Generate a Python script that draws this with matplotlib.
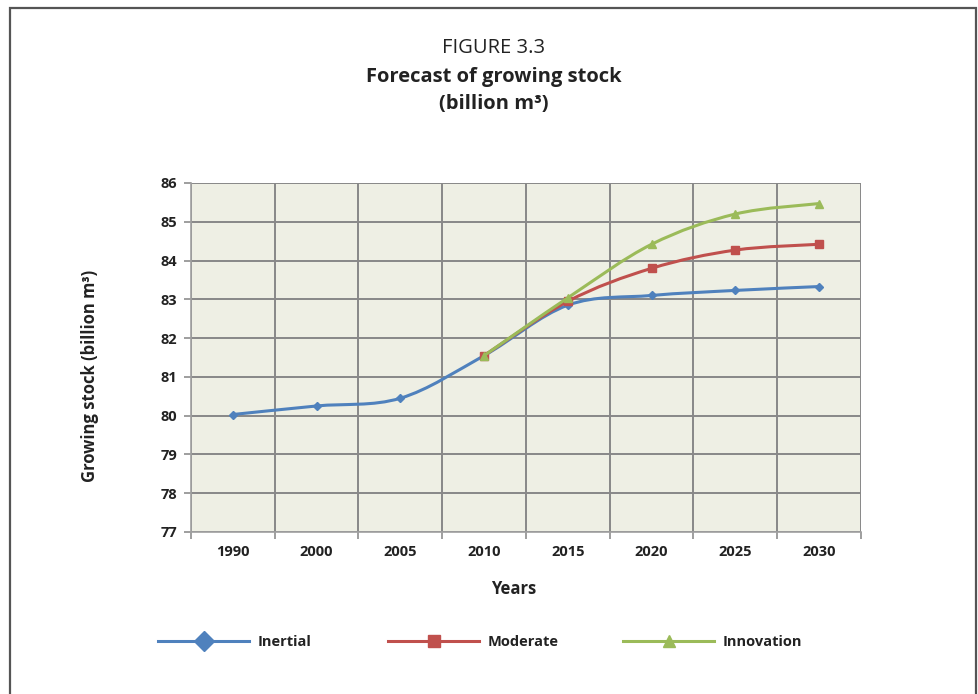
import matplotlib
matplotlib.use("Agg")
import matplotlib.pyplot as plt
import numpy as np
from matplotlib.path import Path
from matplotlib.patches import PathPatch, Rectangle
from matplotlib.lines import Line2D

plt.rcParams['font.family'] = ['Open Sans', 'DejaVu Sans']

years = ["1990", "2000", "2005", "2010", "2015", "2020", "2025", "2030"]
inertial = [80.03, 80.25, 80.45, 81.55, 82.85, 83.10, 83.23, 83.33]
moderate = [None, None, None, 81.55, 82.95, 83.80, 84.27, 84.42]
innovation = [None, None, None, 81.55, 83.04, 84.42, 85.20, 85.47]

series_names = ["Inertial", "Moderate", "Innovation"]
colors = ["#4F81BD", "#C0504D", "#9BBB59"]
markers = ["D", "s", "^"]

fig = plt.figure(figsize=(9.79, 6.94), dpi=100)
ax = fig.add_axes([191/979, 1-532/694, (861-191)/979, (532-183)/694])
ax.set_facecolor("#EEEFE4")

n = len(years)
ax.set_xlim(-0.5, n - 0.5)
ax.set_ylim(77, 86)


def smooth_path(xs, ys):
    pts = np.column_stack([xs, ys])
    verts = [pts[0]]
    codes = [Path.MOVETO]
    m = len(pts)
    for i in range(m - 1):
        p0 = pts[i - 1] if i > 0 else pts[i]
        p1 = pts[i]
        p2 = pts[i + 1]
        p3 = pts[i + 2] if i + 2 < m else pts[i + 1]
        c1 = p1 + (p2 - p0) / 6.0
        c2 = p2 - (p3 - p1) / 6.0
        verts += [c1, c2, p2]
        codes += [Path.CURVE4] * 3
    return Path(verts, codes)

msize = [4.5, 5.5, 5.5]
for vals, col, mk, ms, z in zip([inertial, moderate, innovation], colors, markers, msize, [3, 4, 5]):
    xs = [i for i, v in enumerate(vals) if v is not None]
    ys = [v for v in vals if v is not None]
    patch = PathPatch(smooth_path(xs, ys), facecolor="none", edgecolor=col, lw=2.2, zorder=z)
    ax.add_patch(patch)
    ax.plot(xs, ys, linestyle="none", marker=mk, color=col, markersize=ms, zorder=z + 0.1)

# grid
ax.set_yticks(np.arange(77, 87, 1))
ax.set_xticks(range(n))
ax.set_xticklabels(years)
ax.set_xticks(np.arange(-0.5, n, 1), minor=True)
ax.grid(True, which="major", axis="y", color="#888888", lw=1.4, zorder=1)
ax.grid(True, which="minor", axis="x", color="#888888", lw=1.4, zorder=1)
ax.tick_params(axis="x", which="major", length=0, pad=9)
ax.tick_params(axis="x", which="minor", length=5, color="#8E8E8E", width=1.2)
ax.tick_params(axis="y", length=5, color="#8E8E8E", width=1.2, pad=5)
for lab in ax.get_xticklabels() + ax.get_yticklabels():
    lab.set_fontweight("bold")
    lab.set_fontsize(10.5)
    lab.set_color("#222222")
for s in ["top", "right"]:
    ax.spines[s].set_visible(False)
for s in ["left", "bottom"]:
    ax.spines[s].set_color("#A0A0A0")
    ax.spines[s].set_linewidth(1.2)

# axis labels
fig.text(90/979, 1-376/694, "Growing stock (billion m³)", rotation=90, ha="center", va="center",
         fontsize=12, fontweight="bold", color="#222222")
fig.text(514/979, 1-589/694, "Years", ha="center", va="center", fontsize=12, fontweight="bold", color="#222222")

# title
fig.text(494/979, 1-48/694, "FIGURE 3.3", ha="center", va="center", fontsize=14.5, color="#222222")
fig.text(494/979, 1-77/694, "Forecast of growing stock", ha="center", va="center", fontsize=14.5,
         fontweight="bold", color="#222222")
fig.text(494/979, 1-104/694, "(billion m³)", ha="center", va="center", fontsize=14.5,
         fontweight="bold", color="#222222")

# legends
leg_x = [158, 388, 623]
leg_ms = [10, 8, 8]
for name, col, mk, lx, lms in zip(series_names, colors, markers, leg_x, leg_ms):
    h = Line2D([0], [0], color=col, lw=2.2, marker=mk, markersize=lms)
    lg = fig.legend([h], [name], loc="center left", bbox_to_anchor=(lx/979 - 0.010, 1-642/694),
                    frameon=False, handlelength=6.2, handletextpad=0.6, borderpad=0.2,
                    prop={"weight": "bold", "size": 10.5})
    for t in lg.get_texts():
        t.set_color("#222222")

# outer frame
frame = Rectangle((9.5/979, -0.05), (976.5-9.5)/979, 1.05 - 7.5/694, transform=fig.transFigure,
                  fill=False, edgecolor="#555555", lw=1.6)
fig.add_artist(frame)

fig.savefig("out.png", dpi=100)
